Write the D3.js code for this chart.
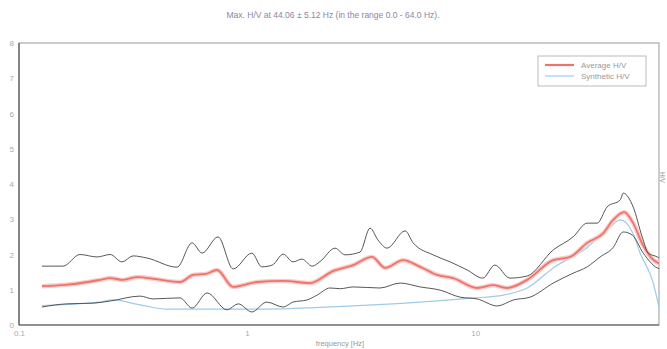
<!DOCTYPE html>
<html><head><meta charset="utf-8">
<script src="https://cdn.jsdelivr.net/npm/d3@7"></script>
<style>body{margin:0;background:#fff}svg{display:block}</style>
</head><body><svg id="c" width="667" height="349"></svg>
<script>
const titleText = "Max. H/V at 44.06 \u00b1 5.12 Hz (in the range 0.0 - 64.0 Hz).";
const xTicks = [0.1, 1, 10];
const xTickLabels = ["0.1", "1", "10"];
const yTicks = [0, 1, 2, 3, 4, 5, 6, 7, 8];
const legendLabels = ["Average H/V", "Synthetic H/V"];

const averageHV = [[0.126,1.1],[0.16,1.14],[0.2,1.22],[0.227,1.28],[0.251,1.33],[0.286,1.28],[0.33,1.36],[0.4,1.3],[0.508,1.22],[0.58,1.42],[0.66,1.45],[0.738,1.56],[0.869,1.08],[1.11,1.22],[1.44,1.25],[1.89,1.19],[2.38,1.53],[2.92,1.7],[3.53,1.93],[4.03,1.62],[4.83,1.84],[5.74,1.65],[6.81,1.42],[8.01,1.33],[10.2,1.05],[12.0,1.13],[13.8,1.05],[16.9,1.28],[22.0,1.84],[26.1,1.93],[31.0,2.33],[36.4,2.6],[40.3,2.98],[45.0,3.2],[49.3,2.89],[54.6,2.25],[60.4,1.85],[64,1.75]];

const upperHV = [[0.126,1.67],[0.156,1.67],[0.185,2.0],[0.22,1.93],[0.251,2.0],[0.283,1.79],[0.316,1.96],[0.364,1.9],[0.493,1.64],[0.574,2.33],[0.635,2.04],[0.746,2.5],[0.869,1.59],[1.05,2.04],[1.16,1.65],[1.29,1.7],[1.44,2.01],[1.59,1.79],[1.74,1.87],[1.93,1.67],[2.09,1.8],[2.43,2.18],[2.69,1.99],[3.13,2.07],[3.46,2.75],[3.75,2.41],[4.11,2.18],[4.93,2.67],[5.35,2.33],[6.54,1.99],[7.77,1.79],[9.23,1.56],[10.8,1.33],[12.2,1.7],[14.2,1.33],[16.9,1.39],[22.0,2.13],[26.9,2.5],[31.0,2.89],[34.3,2.89],[37.9,3.35],[43.3,3.55],[44.6,3.74],[49.3,3.35],[54.0,2.5],[57.4,2.04],[62.9,1.93],[64,1.9]];

const lowerHV = [[0.126,0.51],[0.162,0.6],[0.211,0.62],[0.251,0.68],[0.34,0.82],[0.387,0.74],[0.508,0.77],[0.574,0.48],[0.668,0.91],[0.817,0.43],[0.914,0.6],[1.05,0.37],[1.22,0.65],[1.44,0.51],[1.59,0.65],[1.83,0.71],[2.03,0.85],[2.31,1.05],[2.56,1.03],[2.92,1.08],[3.83,1.05],[4.69,1.19],[5.74,1.08],[7.02,0.99],[8.59,0.79],[10.2,0.74],[12.5,0.54],[14.7,0.71],[17.4,0.79],[22.0,1.19],[26.9,1.47],[31.0,1.65],[35.3,1.93],[40.3,2.2],[44.6,2.64],[48.9,2.55],[54.6,2.04],[62.9,1.62],[64,1.6]];

const syntheticHV = [[0.126,0.55],[0.18,0.6],[0.227,0.65],[0.258,0.71],[0.34,0.57],[0.446,0.45],[0.622,0.45],[1.22,0.45],[2.09,0.5],[5.74,0.65],[9.51,0.76],[13.3,0.85],[16.9,1.05],[22.0,1.62],[31.0,2.2],[39.1,2.78],[43.3,2.98],[48.9,2.64],[52.9,2.04],[60.4,1.19],[64,0.5]];

const svg = d3.select("#c");
const m = {l:19, r:659, t:43, b:325};
const x = d3.scaleLog().domain([0.1, 64]).range([m.l, m.r]);
const y = d3.scaleLinear().domain([0, 8]).range([m.b, m.t]);
const font = "Liberation Sans, Arial, sans-serif";

svg.append("text").attr("x", 333).attr("y", 18).attr("text-anchor","middle")
  .attr("font-family", font).attr("font-size", 8.5).attr("fill", "#8a86a8").text(titleText);

svg.append("rect").attr("x", m.l).attr("y", m.t).attr("width", m.r-m.l).attr("height", m.b-m.t)
  .attr("fill","none").attr("stroke","#9a9a9a").attr("stroke-width",1);
svg.append("line").attr("x1",m.l).attr("x2",m.l).attr("y1",m.t).attr("y2",m.b).attr("stroke","#555").attr("stroke-width",1.2);
svg.append("line").attr("x1",m.l).attr("x2",m.r).attr("y1",m.b).attr("y2",m.b).attr("stroke","#555").attr("stroke-width",1.2);

const yAxis = d3.axisLeft(y).tickValues(yTicks).tickSize(0).tickPadding(5).tickFormat(d3.format("d"));
const gy = svg.append("g").attr("transform",`translate(${m.l},0)`).call(yAxis);
gy.select(".domain").remove();
gy.selectAll("text").attr("font-family", font).attr("font-size", 8).attr("fill","#aaa");

const xAxis = d3.axisBottom(x).tickValues(xTicks).tickSize(0).tickPadding(5).tickFormat((d,i)=>xTickLabels[i]);
const gx = svg.append("g").attr("transform",`translate(0,${m.b})`).call(xAxis);
gx.select(".domain").remove();
gx.selectAll("text").attr("font-family", font).attr("font-size", 8).attr("fill","#aaa");

svg.append("text").attr("x", 340).attr("y", 346).attr("text-anchor","middle")
  .attr("font-family", font).attr("font-size", 7.5).attr("fill","#999").text("frequency [Hz]");

svg.append("text").attr("transform","translate(660,172) rotate(90)")
  .attr("font-family", font).attr("font-size", 6.5).attr("fill","#999").text("H/V");

const line = d3.line().x(d=>x(d[0])).y(d=>y(d[1])).curve(d3.curveMonotoneX);

svg.append("path").datum(syntheticHV).attr("d", line).attr("fill","none").attr("stroke","#9fcbe6").attr("stroke-width",1.2);
svg.append("path").datum(averageHV).attr("d", line).attr("fill","none").attr("stroke","#f8cccc").attr("stroke-width",4.5);
svg.append("path").datum(averageHV).attr("d", line).attr("fill","none").attr("stroke","#ef7468").attr("stroke-width",1.8);
svg.append("path").datum(upperHV).attr("d", line).attr("fill","none").attr("stroke","#444").attr("stroke-width",0.9);
svg.append("path").datum(lowerHV).attr("d", line).attr("fill","none").attr("stroke","#444").attr("stroke-width",0.9);

const lg = svg.append("g");
lg.append("rect").attr("x",538).attr("y",56).attr("width",108).attr("height",30).attr("fill","#fff").attr("stroke","#aaa").attr("stroke-width",0.8);
const legendColors = ["#ef7468", "#9fcbe6"];
const legendWidths = [2.2, 1.2];
legendLabels.forEach((t,i)=>{
  const yy = 65 + i*11;
  lg.append("line").attr("x1",545).attr("x2",574).attr("y1",yy).attr("y2",yy).attr("stroke",legendColors[i]).attr("stroke-width",legendWidths[i]);
  lg.append("text").attr("x",581).attr("y",yy+3).attr("font-family",font).attr("font-size",8).attr("fill","#999").text(t);
});
</script></body></html>
